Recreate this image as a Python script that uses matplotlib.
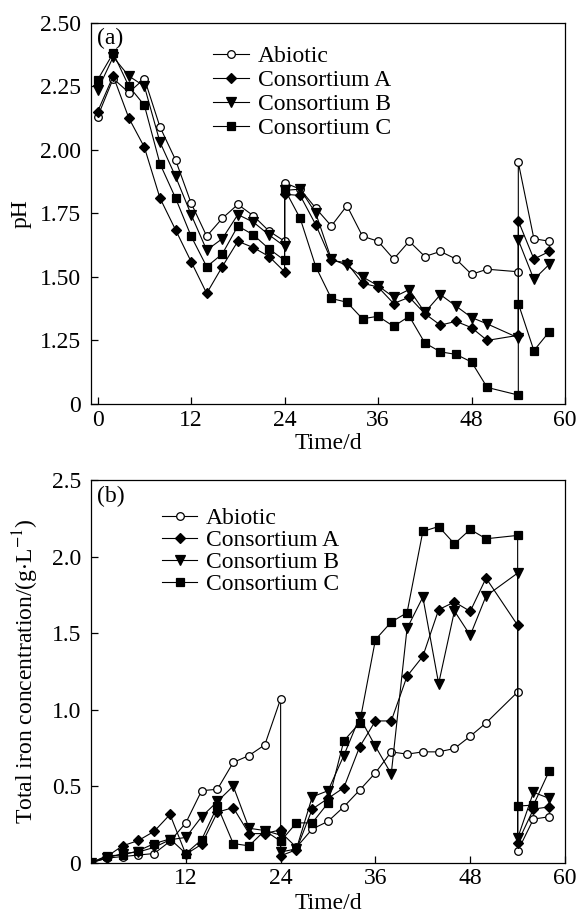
import matplotlib
matplotlib.use("Agg")
import matplotlib.pyplot as plt
import numpy as np

plt.rcParams["font.family"] = ["Liberation Serif", "DejaVu Serif"]
plt.rcParams["mathtext.fontset"] = "stix"
plt.rcParams["font.size"] = 17

# ── time axis: first run 0-24 d, refill at 24 d, second run to 54 d, refill at 54 d
t_run1 = [0, 2, 4, 6, 8, 10, 12, 14, 16, 18, 20, 22, 24]
t_run2 = [24, 26, 28, 30, 32, 34, 36, 38, 40, 42, 44, 46, 48, 50, 54]
t_run3 = [54, 56, 58]
time = t_run1 + t_run2 + t_run3

series_names = ["Abiotic", "Consortium A", "Consortium B", "Consortium C"]

# ── (a) pH
ph_abiotic = [2.13, 2.28, 2.225, 2.28, 2.09, 1.96, 1.79, 1.66, 1.73, 1.785, 1.74, 1.68, 1.64,
              1.87, 1.845, 1.77, 1.70, 1.78, 1.66, 1.64, 1.57, 1.64, 1.58, 1.60, 1.57, 1.51, 1.53, 1.52,
              1.95, 1.65, 1.64]
ph_cons_a = [2.15, 2.29, 2.125, 2.01, 1.81, 1.685, 1.56, 1.435, 1.54, 1.64, 1.615, 1.58, 1.52,
             1.825, 1.82, 1.705, 1.565, 1.555, 1.475, 1.46, 1.395, 1.42, 1.355, 1.31, 1.325, 1.30, 1.25, 1.27,
             1.72, 1.57, 1.60]
ph_cons_b = [2.235, 2.365, 2.29, 2.25, 2.03, 1.895, 1.745, 1.605, 1.65, 1.745, 1.715, 1.665, 1.62,
             1.84, 1.845, 1.75, 1.57, 1.545, 1.50, 1.465, 1.42, 1.45, 1.36, 1.43, 1.385, 1.34, 1.315, 1.26,
             1.645, 1.49, 1.55]
ph_cons_c = [2.275, 2.38, 2.25, 2.175, 1.945, 1.81, 1.66, 1.54, 1.59, 1.70, 1.665, 1.61, 1.565,
             1.845, 1.73, 1.54, 1.415, 1.40, 1.335, 1.345, 1.305, 1.345, 1.24, 1.205, 1.195, 1.165, 1.065, 1.035,
             1.395, 1.21, 1.285]

# ── (b) total iron, g/L
fe_abiotic = [0.0, 0.03, 0.04, 0.05, 0.06, 0.14, 0.26, 0.47, 0.48, 0.655, 0.70, 0.77, 1.07,
              0.20, 0.10, 0.22, 0.27, 0.365, 0.474, 0.587, 0.724, 0.709, 0.724, 0.724, 0.746, 0.826, 0.913, 1.115,
              0.075, 0.285, 0.30]
fe_cons_a = [0.0, 0.04, 0.11, 0.145, 0.205, 0.315, 0.055, 0.12, 0.33, 0.36, 0.19, 0.19, 0.215,
             0.045, 0.085, 0.35, 0.42, 0.49, 0.757, 0.926, 0.926, 1.218, 1.348, 1.653, 1.703, 1.642, 1.859, 1.551,
             0.13, 0.35, 0.365]
fe_cons_b = [0.0, 0.03, 0.06, 0.07, 0.10, 0.15, 0.165, 0.30, 0.40, 0.50, 0.225, 0.21, 0.18,
             0.07, 0.09, 0.43, 0.47, 0.70, 0.95, 0.76, 0.58, 1.53, 1.735, 1.17, 1.644, 1.485, 1.742, 1.892,
             0.16, 0.46, 0.42]
fe_cons_c = [0.0, 0.045, 0.05, 0.078, 0.125, 0.155, 0.06, 0.15, 0.37, 0.125, 0.11, 0.21, 0.14,
             0.14, 0.26, 0.26, 0.39, 0.796, 0.913, 1.457, 1.572, 1.633, 2.164, 2.196, 2.083, 2.177, 2.116, 2.138,
             0.37, 0.376, 0.60]

styles = [
    dict(marker="o", markerfacecolor="white", markersize=5.5),
    dict(marker="D", markerfacecolor="black", markersize=5.0),
    dict(marker="v", markerfacecolor="black", markersize=6.5),
    dict(marker="s", markerfacecolor="black", markersize=5.8),
]


def draw(ax, series):
    for name, vals, st in zip(series_names, series, styles):
        ax.plot(time, vals, color="black", lw=0.8, markeredgecolor="black",
                markeredgewidth=0.9, label=name, **st)


def style_axes(ax):
    ax.tick_params(direction="in", length=5, width=0.9, top=False, right=False)
    ax.tick_params(axis="y", pad=7)
    ax.tick_params(axis="x", pad=4)
    for sp in ax.spines.values():
        sp.set_linewidth(0.9)


fig = plt.figure(figsize=(5.76, 9.16), dpi=100)
ax_a = fig.add_axes([0.158, 0.559, 0.823, 0.4163])
ax_b = fig.add_axes([0.158, 0.0582, 0.823, 0.4178])

# (a)
draw(ax_a, [ph_abiotic, ph_cons_a, ph_cons_b, ph_cons_c])
ax_a.set_xlim(-0.85, 59.8)
ax_a.set_ylim(1.0, 2.5)
ax_a.set_xticks([0, 12, 24, 36, 48, 60])
ax_a.set_yticks([1.0, 1.25, 1.5, 1.75, 2.0, 2.25, 2.5])
ax_a.set_yticklabels(["0", "1.25", "1.50", "1.75", "2.00", "2.25", "2.50"])
ax_a.set_xlabel("Time/d", labelpad=2)
ax_a.set_ylabel("pH", labelpad=6)
ax_a.text(0.012, 0.985, "(a)", transform=ax_a.transAxes, va="top", ha="left")
ax_a.legend(loc="upper left", bbox_to_anchor=(0.232, 0.97), frameon=False,
            borderpad=0, labelspacing=0.1, handlelength=1.55, handletextpad=0.35)
style_axes(ax_a)

# (b)
draw(ax_b, [fe_abiotic, fe_cons_a, fe_cons_b, fe_cons_c])
ax_b.set_xlim(0, 60)
ax_b.set_ylim(0, 2.5)
ax_b.set_xticks([12, 24, 36, 48, 60])
ax_b.set_yticks([0, 0.5, 1.0, 1.5, 2.0, 2.5])
ax_b.set_yticklabels(["0", "0.5", "1.0", "1.5", "2.0", "2.5"])
ax_b.set_xlabel("Time/d", labelpad=3)
ax_b.set_ylabel("Total iron concentration/(g$\\cdot$L$^{-1}$)", labelpad=8)
ax_b.text(0.012, 0.985, "(b)", transform=ax_b.transAxes, va="top", ha="left")
ax_b.legend(loc="upper left", bbox_to_anchor=(0.125, 0.958), frameon=False,
            borderpad=0, labelspacing=0.02, handlelength=1.5, handletextpad=0.35)
style_axes(ax_b)

fig.savefig("out.png", dpi=100)
